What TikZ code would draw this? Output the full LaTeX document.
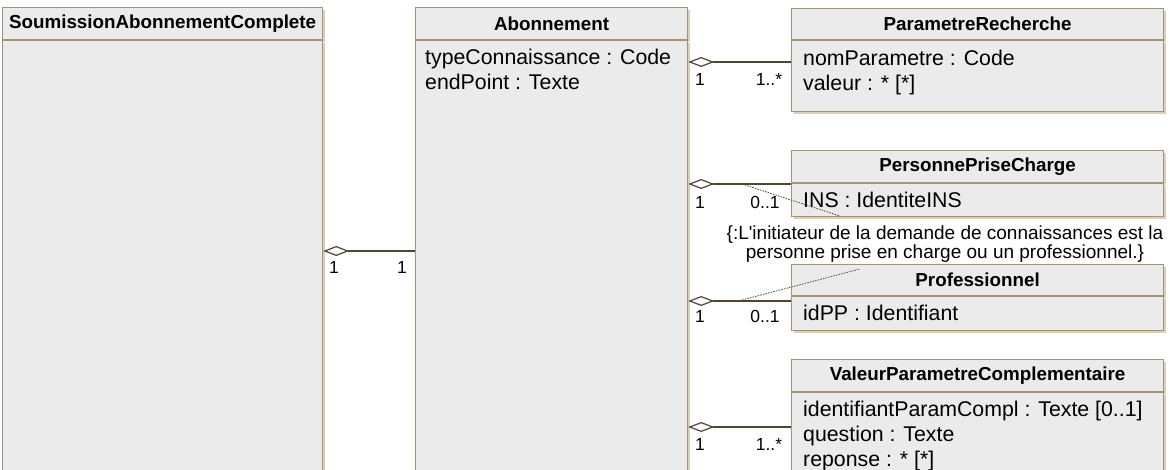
\documentclass[tikz,border=0pt]{standalone}
\usepackage{fontspec}
\setmainfont{Liberation Sans}
\usetikzlibrary{arrows.meta}
\usetikzlibrary{shadows}

\definecolor{clsfill}{HTML}{EBEBEB}
\definecolor{clsline}{HTML}{A39473}
\definecolor{clsshade}{HTML}{D9CFBC}
\definecolor{asc}{HTML}{4F4537}

\begin{document}
\begin{tikzpicture}[x=1pt, y=-1pt,
		hd/.style={draw=clsline, fill=clsfill, line width=1.2pt, anchor=north west, inner sep=0pt,
			font=\fontsize{18.8}{20}\selectfont\bfseries,
			drop shadow={shadow xshift=2pt, shadow yshift=-2pt, fill=clsshade, opacity=1}},
		bd/.style={hd},
		att/.style={anchor=north west, align=left, inner sep=0pt, font=\fontsize{21.3}{25}\selectfont},
		ml/.style={anchor=base, inner sep=0pt, font=\fontsize{17.5}{20}\selectfont},
		A/.style={line width=1.2pt, draw=asc, -{Diamond[open, length=26pt, width=10pt]}},
		cst/.style={line width=0.8pt, draw=asc, dash pattern=on 1.5pt off 1.2pt}
		]
		\useasboundingbox (0,0) rectangle (1170,470);
		\clip (0,0) rectangle (1170,470);
		\fill[white] (0,0) rectangle (1170,470);
		
		% classes
		\node[hd, minimum width=320pt, minimum height=32pt] (sacH) at (2,7) {SoumissionAbonnementComplete};
		\node[bd, minimum width=320pt, minimum height=445pt] (sacB) at (sacH.south west) {};
		
		\node[hd, minimum width=272pt, minimum height=32pt] (abH) at (415,7) {Abonnement};
		\node[bd, minimum width=272pt, minimum height=445pt] (abB) at (abH.south west) {};
		\node[att] (abA) at ([shift={(10,9)}]abB.north west) {typeConnaissance : Code\\endPoint : Texte};
		
		\node[hd, minimum width=372pt, minimum height=31pt] (prH) at (791,8) {ParametreRecherche};
		\node[bd, minimum width=372pt, minimum height=71pt] (prB) at (prH.south west) {};
		\node[att] (prA) at ([shift={(12,10)}]prB.north west) {nomParametre : Code\\valeur : * [*]};
		
		\node[hd, minimum width=372pt, minimum height=32pt] (ppcH) at (791,150) {PersonnePriseCharge};
		\node[bd, minimum width=372pt, minimum height=33pt] (ppcB) at (ppcH.south west) {};
		\node[att] (ppcA) at ([shift={(12,9)}]ppcB.north west) {INS : IdentiteINS};
		
		\node[hd, minimum width=372pt, minimum height=31pt] (proH) at (791,264) {Professionnel};
		\node[bd, minimum width=372pt, minimum height=34pt] (proB) at (proH.south west) {};
		\node[att] (proA) at ([shift={(12,9)}]proB.north west) {idPP : Identifiant};
		
		\node[hd, minimum width=372pt, minimum height=32pt] (vpcH) at (791,359) {ValeurParametreComplementaire};
		\node[bd, minimum width=372pt, minimum height=120pt] (vpcB) at (vpcH.south west) {};
		\node[att] (vpcA) at ([shift={(12,9)}]vpcB.north west) {identifiantParamCompl : Texte [0..1]\\question : Texte\\reponse : * [*]};
		
		% aggregations
		\draw[A] (abB.west |- 0,251) -- (sacB.east |- 0,251);
		\draw[A] (prB.west |- 0,62) -- (abB.east |- 0,62);
		\draw[A] (ppcB.west |- 0,184) -- (abB.east |- 0,184);
		\draw[A] (proB.west |- 0,301) -- (abB.east |- 0,301);
		\draw[A] (vpcB.west |- 0,427) -- (abB.east |- 0,427);
		
		% multiplicities
		\node[ml] (m0a) at (334,274) {1};
		\node[ml] (m0b) at (402,274) {1};
		\foreach \y/\n in {86/1,209/2,323/3,450/4}{\node[ml] (w\n) at (700,\y) {1};}
		\node[ml] (m1) at (769,86) {1..*};
		\node[ml] (m2) at (765,209) {0..1};
		\node[ml] (m3) at (765,323) {0..1};
		\node[ml] (m4) at (769,450) {1..*};
		
		% constraint
		\node[align=center, anchor=base, inner sep=0pt, font=\fontsize{19}{19}\selectfont] (cns) at (945,259)
			{\{:L\textquotesingle initiateur de la demande de connaissances est la\\personne prise en charge ou un professionnel.\}};
		\coordinate (k1) at (742,184);
		\coordinate (k2) at (840,216);
		\coordinate (k3) at (742,300);
		\coordinate (k4) at (860,269);
		\draw[cst] (k1) -- (k2);
		\draw[cst] (k3) -- (k4);
		
	\end{tikzpicture}
\end{document}
